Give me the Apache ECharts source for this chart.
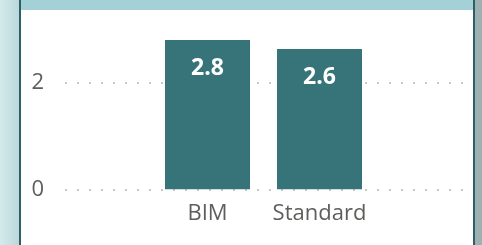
<!DOCTYPE html>
<html>
<head>
<meta charset="utf-8">
<script src="https://cdn.jsdelivr.net/npm/echarts@6/dist/echarts.min.js"></script>
<style>
  html, body { margin: 0; padding: 0; background: #fff; }
  #chart { width: 482px; height: 245px; }
</style>
</head>
<body>
<div id="chart"></div>
<script>
const categories = ["BIM", "Standard"];
const values = [2.8, 2.63];
const yMin = 0;
const yMax = 3;
const yStep = 2;

const font = "'Open Sans', 'Noto Sans', sans-serif";
const textGray = "#605e5c";
const barColor = "#37747a";

const chart = echarts.init(document.getElementById("chart"), null, { renderer: "canvas" });

// plot area: value 0 sits at y≈189, 53.3px per unit
const zeroY = 189.3;
const unit = 53.3;
const gridTop = zeroY - yMax * unit;
const gridBottom = 245 - zeroY;

chart.setOption({
  animation: false,
  backgroundColor: "#fff",
  graphic: [
    {
      type: "rect",
      shape: { x: 0, y: 0, width: 19, height: 245 },
      style: {
        fill: new echarts.graphic.LinearGradient(0, 0, 1, 0, [
          { offset: 0, color: "#d4eaec" },
          { offset: 1, color: "#bcd8db" },
        ]),
      },
      z: -10,
    },
    { type: "rect", shape: { x: 19, y: 0, width: 2, height: 245 }, style: { fill: "#2f5f66" } },
    { type: "rect", shape: { x: 473, y: 0, width: 2, height: 245 }, style: { fill: "#2f5f66" } },
    { type: "rect", shape: { x: 475, y: 0, width: 7, height: 245 }, style: { fill: "#9fb0b3" } },
    { type: "rect", shape: { x: 21, y: 0, width: 452, height: 10 }, style: { fill: "#a4d0d8" } },
  ],
  grid: [
    { left: 65, right: 18, top: gridTop, bottom: gridBottom },
    { left: 151.5, right: 106.5, top: gridTop, bottom: gridBottom },
  ],
  xAxis: [
    { gridIndex: 0, type: "value", show: false, min: 0, max: 1 },
    {
      gridIndex: 1,
      type: "category",
      data: categories,
      axisLine: { show: false },
      axisTick: { show: false },
      axisLabel: { interval: 0, color: textGray, fontFamily: font, fontSize: 22, margin: 13 },
    },
  ],
  yAxis: [
    {
      gridIndex: 0,
      type: "value",
      min: yMin,
      max: yMax,
      interval: yStep,
      axisLine: { show: false },
      axisTick: { show: false },
      axisLabel: { showMaxLabel: false, color: textGray, fontFamily: font, fontSize: 22, margin: 21 },
      splitLine: { showMaxLine: false, lineStyle: { color: "#c8c8c8", width: 2, type: [2, 10] } },
    },
    { gridIndex: 1, type: "value", min: yMin, max: yMax, show: false, splitLine: { show: false } },
  ],
  series: [
    {
      type: "bar",
      xAxisIndex: 1,
      yAxisIndex: 1,
      data: values,
      barWidth: 85,
      itemStyle: { color: barColor },
      label: {
        show: true,
        position: "insideTop",
        distance: 17,
        color: "#fff",
        fontFamily: font,
        fontWeight: "bold",
        fontSize: 23,
        formatter: (p) => p.value.toFixed(1),
      },
    },
  ],
});
</script>
</body>
</html>
